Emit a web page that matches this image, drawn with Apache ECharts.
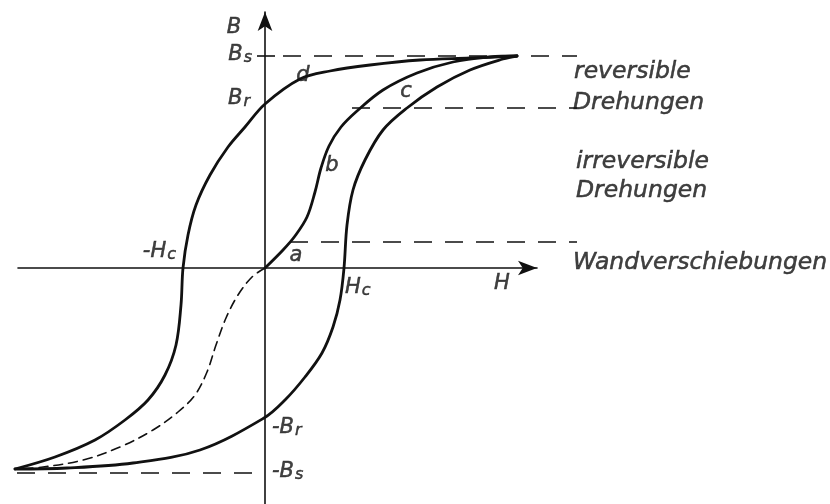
<!DOCTYPE html>
<html>
<head>
<meta charset="utf-8">
<script src="https://cdn.jsdelivr.net/npm/echarts@6/dist/echarts.min.js"></script>
<style>
  html, body { margin: 0; padding: 0; background: #fff; }
  #chart { width: 830px; height: 504px; }
</style>
</head>
<body>
<div id="chart"></div>
<script>
// Hysteresis loop B(H) with the virgin (initial magnetisation) curve.
// H and B are in arbitrary drawing units; Hc ~ 80, Bs ~ 212.

// Descending branch: +saturation -> Br -> -Hc -> -saturation
const upperBranch = [
  [252, 212], [205, 210], [155, 208], [105, 203], [65, 197], [35, 189],
  [0, 164], [-20, 141], [-37, 121], [-55, 93], [-69, 63], [-77, 33],
  [-82, 0], [-84, -37], [-89, -77], [-100, -107], [-117, -132],
  [-140, -152], [-170, -172], [-210, -189], [-250, -201]
];

// Ascending branch: -saturation -> -Br -> Hc -> +saturation
const lowerBranch = [
  [-250, -201], [-198, -200], [-132, -195], [-65, -182], [-1, -150],
  [20, -132], [40, -109], [57, -85], [68, -59], [75, -32], [79, 0],
  [82, 43], [88, 78], [100, 108], [118, 138], [142, 160], [172, 181],
  [205, 198], [238, 209], [252, 212]
];

// Initial magnetisation curve, positive side (a -> b -> c)
const virginCurve = [
  [0, 0], [18, 18], [30, 32], [42, 51], [50, 76], [56, 100], [64, 122],
  [76, 141], [92, 157], [118, 178], [152, 195], [188, 206], [225, 211],
  [252, 212]
];

// Initial magnetisation curve, negative side (dashed)
const virginCurveNeg = [
  [0, 0], [-13, -9], [-27, -27], [-39, -50], [-49, -77], [-58, -104],
  [-70, -127], [-87, -144], [-112, -162], [-145, -179], [-182, -192],
  [-222, -199], [-250, -201]
];

// Characteristic levels
const Bs = 212, BsNeg = -205;
const levelReversible = 160;   // reversible / irreversible rotations
const levelWall = 26;          // end of domain wall displacement
const levelEnd = 312;          // right end of the level lines

// Region names on the right
const regionTexts = ['reversible', 'Drehungen', 'irreversible', 'Drehungen', 'Wandverschiebungen'];

const INK = '#111';
const FONT = 'DejaVu Sans';

const levelLines = [
  [[18, Bs], [levelEnd, Bs]],
  [[87, levelReversible], [levelEnd, levelReversible]],
  [[25, levelWall], [levelEnd, levelWall]],
  [[-248, BsNeg], [0, BsNeg]]
];

const textInk = { color: INK, textBorderColor: INK, textBorderWidth: 0.5 };
const rich = {
  m: Object.assign({ fontFamily: FONT, fontStyle: 'italic', fontSize: 21, verticalAlign: 'top', lineHeight: 22 }, textInk),
  s: Object.assign({ fontFamily: FONT, fontStyle: 'italic', fontSize: 16, verticalAlign: 'bottom', lineHeight: 16, padding: [11, 0, 0, 1] }, textInk)
};

function lbl(value, text, align) {
  return {
    value: value,
    label: Object.assign({
      show: true, position: [0, 0], formatter: text,
      align: align || 'center', verticalAlign: 'middle', rich: rich
    }, textInk)
  };
}

const axisLabels = [
  lbl([-31, 240], '{m|B}'),
  lbl([-13, 213], '{m|B}{s|s}', 'right'),
  lbl([-15, 169], '{m|B}{s|r}', 'right'),
  lbl([38, 192], '{m|d}'),
  lbl([141, 176], '{m|c}'),
  lbl([67, 102], '{m|b}'),
  lbl([31, 12], '{m|a}'),
  lbl([-89, 16], '{m|-H}{s|c}', 'right'),
  lbl([80, -20], '{m|H}{s|c}', 'left'),
  lbl([237, -16], '{m|H}'),
  lbl([7, -160], '{m|-B}{s|r}', 'left'),
  lbl([7, -204], '{m|-B}{s|s}', 'left')
];

const regionPos = [[309, 196], [308, 165], [311, 106], [311, 77], [308, 5]];
const regionLabels = regionTexts.map((t, i) => ({
  value: regionPos[i],
  label: Object.assign({
    show: true, position: [0, 0], formatter: t, align: 'left', verticalAlign: 'middle',
    fontFamily: FONT, fontStyle: 'italic', fontSize: 23.5
  }, textInk)
}));

function curve(data, width, dashed) {
  return {
    type: 'line', xAxisIndex: 1, yAxisIndex: 1, data: data, smooth: 0.35,
    symbol: 'none', clip: false,
    lineStyle: { color: INK, width: width, type: dashed || 'solid', cap: 'round', join: 'round' },
    silent: true, animation: false, z: 3
  };
}

const series = [
  curve(upperBranch, 2.8),
  curve(lowerBranch, 2.8),
  curve(virginCurve, 2.8),
  curve(virginCurveNeg, 1.6, [9, 6])
];
levelLines.forEach(seg => {
  series.push({
    type: 'line', xAxisIndex: 1, yAxisIndex: 1, data: seg, symbol: 'none', clip: false,
    silent: true, animation: false, z: 2,
    lineStyle: { color: INK, width: 1.6, type: [18, 13] }
  });
});
// short tick on the B axis at Bs
series.push({
  type: 'line', xAxisIndex: 0, yAxisIndex: 0, data: [[-8, Bs], [10, Bs]], symbol: 'none',
  clip: false, silent: true, animation: false, lineStyle: { color: INK, width: 1.6 }
});
series.push({
  type: 'scatter', xAxisIndex: 1, yAxisIndex: 1, data: axisLabels.concat(regionLabels),
  symbolSize: 0, clip: false, silent: true, animation: false, z: 5
});

function axis(min, max, visible) {
  return {
    type: 'value', min: min, max: max, gridIndex: visible ? 0 : 1, show: true,
    axisLine: {
      show: visible, onZero: true,
      symbol: ['none', 'arrow'], symbolSize: [11, 19], symbolOffset: [0, 0],
      lineStyle: { color: INK, width: 1.6 }
    },
    axisTick: { show: false },
    axisLabel: { show: false },
    splitLine: { show: false }
  };
}

const option = {
  backgroundColor: '#fff',
  animation: false,
  grid: [
    // axes H and B with arrow heads
    { left: 18, top: 12, width: 519, height: 492 },
    // wider frame, same scale, for curves, level lines and texts
    { left: 13, top: 12, width: 564, height: 492 }
  ],
  xAxis: [axis(-247, 272, true), axis(-252, 312, false)],
  yAxis: [axis(-236, 256, true), axis(-236, 256, false)],
  series: series
};

const chart = echarts.init(document.getElementById('chart'), null, { renderer: 'canvas' });
chart.setOption(option);
</script>
</body>
</html>
